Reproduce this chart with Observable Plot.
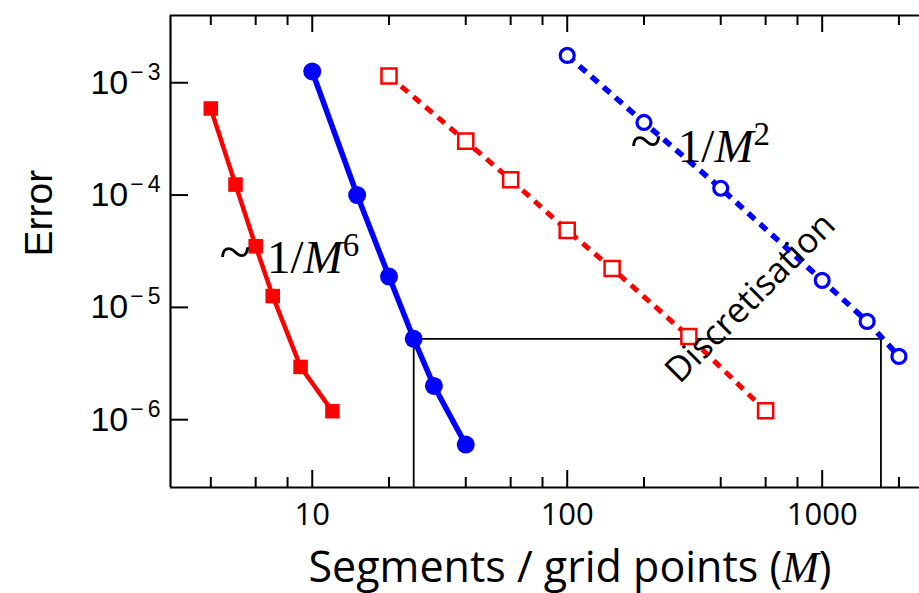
<!DOCTYPE html>
<html><head><meta charset="utf-8">
<script src="https://cdn.jsdelivr.net/npm/d3@7"></script>
<script src="https://cdn.jsdelivr.net/npm/@observablehq/plot@0.6"></script>
<style>body{margin:0;background:#fff;overflow:hidden} svg{display:block}</style>
</head><body><div id="chart"></div>
<script>
// Series: red filled squares (solid)
const fineM   = [4, 5, 6, 7, 9, 12];
const fineErr = [5.9e-4, 1.24e-4, 3.5e-5, 1.26e-5, 2.95e-6, 1.19e-6];
// blue filled circles (solid)
const collM   = [10, 15, 20, 25, 30, 40];
const collErr = [1.26e-3, 1.0e-4, 1.88e-5, 5.25e-6, 2.0e-6, 6.0e-7];
// red open squares (dashed)
const fdM     = [20, 40, 60, 100, 150, 300, 600];
const fdErr   = [1.15e-3, 3.02e-4, 1.37e-4, 4.85e-5, 2.22e-5, 5.5e-6, 1.2e-6];
// blue open circles (dotted)
const fdcM    = [100, 200, 400, 1000, 1500, 2000];
const fdcErr  = [1.75e-3, 4.43e-4, 1.15e-4, 1.74e-5, 7.5e-6, 3.66e-6];

const xMajor = [10, 100, 1000];
const xMinor = [4, 6, 8, 20, 40, 60, 80, 200, 400, 600, 800, 2000];
const yMajor = [1e-3, 1e-4, 1e-5, 1e-6];
const xDomain = [2.78, 2408];
const yDomain = [2.49e-7, 3.97e-3];

// Discretisation box corner
const boxM = [25, 1700];
const boxErr = [5.25e-6];

// annotations
const annoText = ["~1/M^6", "~1/M^2", "Discretisation"];
const annoM    = [4.33, 177, 523];
const annoErr  = [2.03e-5, 1.96e-4, 1.21e-5];

const xLabel = "Segments / grid points (M)";
const yLabel = "Error";

const zip = (xs, ys) => xs.map((x, i) => ({x, y: ys[i]}));
const fine = zip(fineM, fineErr), coll = zip(collM, collErr), fd = zip(fdM, fdErr), fdc = zip(fdcM, fdcErr);
const anno = annoText.map((t, i) => ({t, x: annoM[i], y: annoErr[i]}));

const RED = "#ff0000", BLUE = "#0000ff";
const W = 919, H = 593, ML = 170, MT = 15, MB = 106, MR = 0;

// Plot scales matching the chart, used to find where inward ticks end
const xS = Plot.scale({x: {type: "log", domain: xDomain, range: [ML, W - MR]}});
const yS = Plot.scale({y: {type: "log", domain: yDomain, range: [H - MB, MT]}});
const tickEnd = {
  bottomMajor: yS.invert(H - MB - 17), bottomMinor: yS.invert(H - MB - 10),
  topMajor: yS.invert(MT + 17), topMinor: yS.invert(MT + 10),
  left: xS.invert(ML + 18)
};

const plot = Plot.plot({
  width: W, height: H,
  marginLeft: ML, marginTop: MT, marginBottom: MB, marginRight: MR,
  style: {background: "#fff", fontFamily: "Liberation Sans"},
  x: {type: "log", domain: xDomain},
  y: {type: "log", domain: yDomain},
  marks: [
    // tick labels
    Plot.axisX({anchor: "bottom", ticks: xMajor, tickSize: 0, tickPadding: 15, tickFormat: d => String(d),
      fontSize: 31, fontFamily: "Open Sans", label: null, fill: "#000"}),
    Plot.axisY({anchor: "left", ticks: yMajor, tickSize: 0, tickPadding: 10,
      tickFormat: d => "10^" + Math.round(Math.log10(d)), fontSize: 34, fontFamily: "Liberation Sans", label: null, fill: "#000"}),
    // box
    Plot.ruleY(boxErr, {x1: boxM[0], x2: boxM[1], stroke: "#000", strokeWidth: 1.8}),
    Plot.ruleX(boxM, {y1: boxErr[0], y2: yDomain[0], stroke: "#000", strokeWidth: 1.8}),
    // series
    Plot.line(fd, {x: "x", y: "y", stroke: RED, strokeWidth: 5, strokeDasharray: "9,7", strokeLinecap: "butt"}),
    Plot.dot(fd, {x: "x", y: "y", symbol: "square", r: 8.5, fill: "#fff", stroke: RED, strokeWidth: 2.5}),
    Plot.line(fdc, {x: "x", y: "y", stroke: BLUE, strokeWidth: 5.5, strokeDasharray: "9,7", strokeLinecap: "butt"}),
    Plot.dot(fdc, {x: "x", y: "y", r: 7, fill: "#fff", stroke: BLUE, strokeWidth: 3.2}),
    Plot.line(fine, {x: "x", y: "y", stroke: RED, strokeWidth: 4.5}),
    Plot.dot(fine, {x: "x", y: "y", symbol: "square", r: 8.2, fill: RED, stroke: "none"}),
    Plot.line(coll, {x: "x", y: "y", stroke: BLUE, strokeWidth: 5.5}),
    Plot.dot(coll, {x: "x", y: "y", r: 9, fill: BLUE, stroke: "none"}),
    // annotations
    Plot.text(anno.slice(0, 2), {x: "x", y: "y", text: "t", textAnchor: "start", lineAnchor: "bottom",
      fontFamily: "Liberation Serif", fontSize: 47, fill: "#000"}),
    Plot.text(anno.slice(2), {x: "x", y: "y", text: "t", rotate: -45,
      fontFamily: "Open Sans", fontSize: 35, fill: "#000"}),
    // axis titles
    Plot.text([xLabel], {text: d => d, frameAnchor: "bottom", lineAnchor: "bottom", dx: 25, dy: 94,
      fontFamily: "Open Sans", fontSize: 43, fill: "#000"}),
    Plot.text([yLabel], {text: d => d, frameAnchor: "left", rotate: -90, dx: -131, dy: 5,
      fontFamily: "Liberation Sans", fontSize: 39, fill: "#000"}),
    // frame lines
    Plot.ruleY([yDomain[1]], {stroke: "#000", strokeWidth: 2.2}),
    Plot.ruleY([yDomain[0]], {stroke: "#000", strokeWidth: 2.2}),
    Plot.ruleX([xDomain[0]], {stroke: "#000", strokeWidth: 2.2}),
    // inward ticks as short rules
    Plot.ruleX(xMajor, {y1: yDomain[0], y2: tickEnd.bottomMajor, stroke: "#000", strokeWidth: 2}),
    Plot.ruleX(xMinor, {y1: yDomain[0], y2: tickEnd.bottomMinor, stroke: "#000", strokeWidth: 2}),
    Plot.ruleX(xMajor, {y1: yDomain[1], y2: tickEnd.topMajor, stroke: "#000", strokeWidth: 2}),
    Plot.ruleX(xMinor, {y1: yDomain[1], y2: tickEnd.topMinor, stroke: "#000", strokeWidth: 2}),
    Plot.ruleY(yMajor, {x1: xDomain[0], x2: tickEnd.left, stroke: "#000", strokeWidth: 2})
  ]
});
document.getElementById("chart").appendChild(plot);

// rich text: superscripts and italic math
const NS = "http://www.w3.org/2000/svg";
function setParts(t, parts) {
  while (t.firstChild) t.removeChild(t.firstChild);
  for (const p of parts) {
    const s = document.createElementNS(NS, "tspan");
    s.textContent = p.text;
    for (const [k, v] of Object.entries(p.attrs || {})) s.setAttribute(k, v);
    t.appendChild(s);
  }
}
plot.querySelectorAll("text").forEach(t => {
  const s = t.textContent;
  let m;
  if ((m = /^10\^-(\d+)$/.exec(s))) {
    setParts(t, [{text: "10"}, {text: "\u2212", attrs: {"font-size": 23, dx: 2, dy: -14}},
      {text: m[1], attrs: {"font-size": 23, dx: 4}}]);
  } else if ((m = /^~1\/M\^(\d)$/.exec(s))) {
    setParts(t, [{text: "~", attrs: {"font-size": 58, dy: -2}}, {text: "1/", attrs: {dx: 16, dy: 2}},
      {text: "M", attrs: {"font-style": "italic"}},
      {text: m[1], attrs: {"font-size": 33, dy: -17}}]);
  } else if (s === xLabel) {
    setParts(t, [{text: "Segments / grid points ("},
      {text: "M", attrs: {"font-style": "italic", "font-family": "Liberation Serif", "font-size": 44}},
      {text: ")"}]);
  }
});
</script>
</body></html>
